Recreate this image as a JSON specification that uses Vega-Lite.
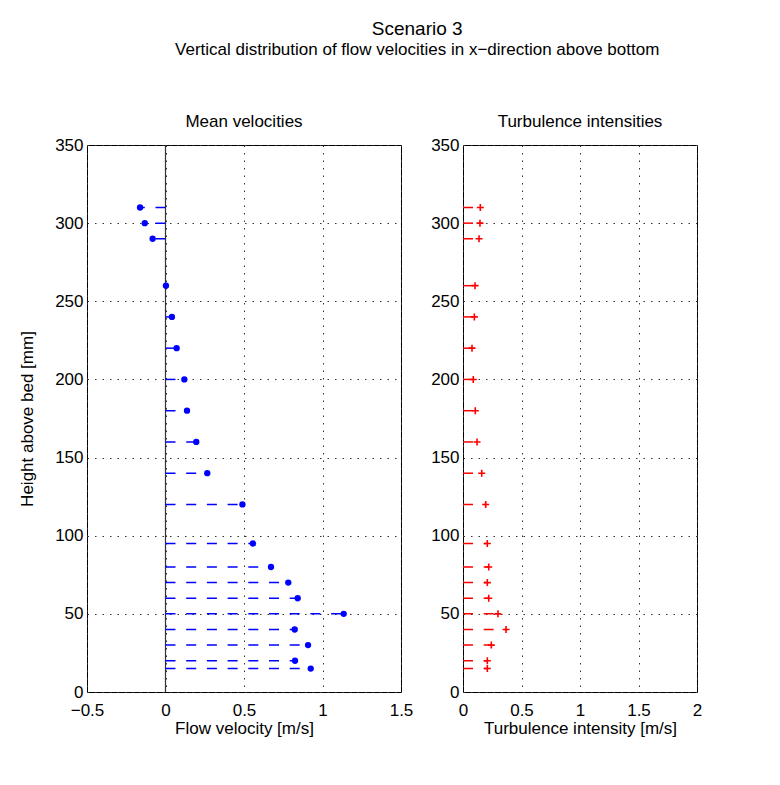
{
  "$schema": "https://vega.github.io/schema/vega-lite/v6.json",
  "padding": {"left": 18, "top": 19, "right": 5, "bottom": 5},
  "background": "white",
  "title": {
    "text": "Scenario 3",
    "subtitle": "Vertical distribution of flow velocities in x−direction above bottom",
    "font": "Liberation Sans",
    "subtitleFont": "Liberation Sans",
    "fontSize": 19,
    "subtitleFontSize": 17,
    "fontWeight": "normal",
    "color": "black",
    "subtitleColor": "black",
    "anchor": "middle",
    "offset": 55,
    "subtitlePadding": 3,
    "dx": 57
  },
  "datasets": {
    "d": [
      {"h": 310, "v": -0.162, "ti": 0.148},
      {"h": 300, "v": -0.132, "ti": 0.145},
      {"h": 290, "v": -0.082, "ti": 0.137},
      {"h": 260, "v": 0.003, "ti": 0.103},
      {"h": 240, "v": 0.041, "ti": 0.097},
      {"h": 220, "v": 0.071, "ti": 0.077},
      {"h": 200, "v": 0.12, "ti": 0.088},
      {"h": 180, "v": 0.137, "ti": 0.105},
      {"h": 160, "v": 0.196, "ti": 0.12},
      {"h": 140, "v": 0.266, "ti": 0.16},
      {"h": 120, "v": 0.49, "ti": 0.194},
      {"h": 95, "v": 0.557, "ti": 0.208},
      {"h": 80, "v": 0.672, "ti": 0.22},
      {"h": 70, "v": 0.782, "ti": 0.208},
      {"h": 60, "v": 0.842, "ti": 0.22},
      {"h": 50, "v": 1.135, "ti": 0.299},
      {"h": 40, "v": 0.823, "ti": 0.368},
      {"h": 30, "v": 0.908, "ti": 0.242},
      {"h": 20, "v": 0.825, "ti": 0.208},
      {"h": 15, "v": 0.925, "ti": 0.208}
    ]
  },
  "spacing": 62,
  "bounds": "flush",
  "hconcat": [
    {
      "width": 314,
      "height": 547,
      "title": "Mean velocities",
      "data": {"name": "d"},
      "layer": [
        {
          "mark": {"type": "rule", "color": "#333333", "strokeWidth": 1.2},
          "data": {"values": [{"z": 0}]},
          "encoding": {
            "x": {"field": "z", "type": "quantitative", "title": "Flow velocity [m/s]", "scale": {"domain": [-0.5, 1.5], "nice": false}}
          }
        },
        {
          "mark": {"type": "rule", "color": "#0000FF", "strokeWidth": 1.5, "strokeDash": [10, 10.7],
            "strokeDashOffset": {"expr": "10 - abs(scale('concat_0_x', datum.v) - scale('concat_0_x', 0))"}},
          "encoding": {
            "x": {"field": "v", "type": "quantitative", "title": "Flow velocity [m/s]", "scale": {"domain": [-0.5, 1.5], "nice": false}},
            "x2": {"datum": 0},
            "y": {"field": "h", "type": "quantitative", "title": "Height above bed [mm]", "scale": {"domain": [0, 350], "nice": false}}
          }
        },
        {
          "mark": {"type": "point", "shape": "circle", "filled": true, "size": 40, "color": "#0000FF", "opacity": 1},
          "encoding": {
            "x": {"field": "v", "type": "quantitative", "title": "Flow velocity [m/s]", "scale": {"domain": [-0.5, 1.5], "nice": false},
              "axis": {"values": [-0.5, 0, 0.5, 1, 1.5], "format": "~f"}},
            "y": {"field": "h", "type": "quantitative", "title": "Height above bed [mm]", "scale": {"domain": [0, 350], "nice": false},
              "axis": {"values": [0, 50, 100, 150, 200, 250, 300, 350]}}
          }
        }
      ]
    },
    {
      "width": 234,
      "height": 547,
      "title": "Turbulence intensities",
      "data": {"name": "d"},
      "layer": [
        {
          "mark": {"type": "rule", "color": "#FF0000", "strokeWidth": 1.5, "strokeDash": [10, 10.7],
            "strokeDashOffset": {"expr": "10 - abs(scale('concat_1_x', datum.ti) - scale('concat_1_x', 0))"}},
          "encoding": {
            "x": {"field": "ti", "type": "quantitative", "title": "Turbulence intensity [m/s]", "scale": {"domain": [0, 2], "nice": false}},
            "x2": {"datum": 0},
            "y": {"field": "h", "type": "quantitative", "title": null, "scale": {"domain": [0, 350], "nice": false}}
          }
        },
        {
          "mark": {"type": "point", "shape": "M-1,0L1,0M0,-1L0,1", "filled": false, "size": 49, "color": "#FF0000", "strokeWidth": 1.6, "opacity": 1},
          "encoding": {
            "x": {"field": "ti", "type": "quantitative", "title": "Turbulence intensity [m/s]", "scale": {"domain": [0, 2], "nice": false},
              "axis": {"values": [0, 0.5, 1, 1.5, 2], "format": "~f"}},
            "y": {"field": "h", "type": "quantitative", "title": null, "scale": {"domain": [0, 350], "nice": false},
              "axis": {"values": [0, 50, 100, 150, 200, 250, 300, 350]}}
          }
        }
      ]
    }
  ],
  "config": {
    "font": "Liberation Sans",
    "view": {"stroke": "black", "strokeWidth": 1},
    "axis": {
      "labelFont": "Liberation Sans",
      "labelFontSize": 17,
      "labelColor": "black",
      "titleFont": "Liberation Sans",
      "titleFontSize": 17,
      "titleFontWeight": "normal",
      "titleColor": "black",
      "domain": false,
      "ticks": false,
      "tickSize": 0,
      "grid": true,
      "gridDash": [1.5, 6],
      "gridColor": "#333333",
      "gridOpacity": 1,
      "gridWidth": 1,
      "labelPadding": 4,
      "labelFlush": false,
      "labelOverlap": false
    },
    "axisX": {"labelPadding": 10.5, "titlePadding": 2},
    "axisY": {"titlePadding": 18},
    "title": {"font": "Liberation Sans", "fontSize": 17, "fontWeight": "normal", "color": "black", "offset": 5}
  }
}
